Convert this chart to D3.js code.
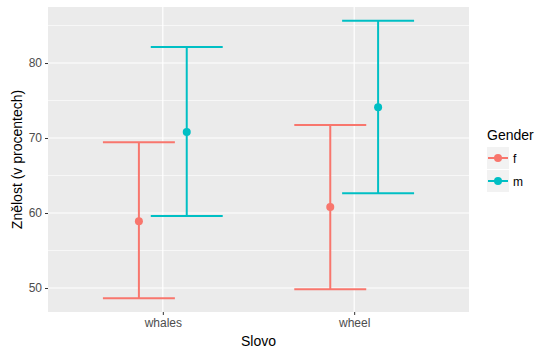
<!DOCTYPE html>
<html>
<head>
<meta charset="utf-8">
<script src="https://cdn.jsdelivr.net/npm/d3@7"></script>
<style>
  body { margin: 0; background: #fff; }
  text { font-family: "Liberation Sans", Arial, sans-serif; }
</style>
</head>
<body>
<script>
const words = ["whales", "wheel"];
const genders = ["f", "m"];
const colors = ["#F8766D", "#00BFC4"];
// mean, lower, upper per word, for each gender
const fMean = [58.9, 60.8];
const fLow = [48.65, 49.85];
const fHigh = [69.45, 71.75];
const mMean = [70.8, 74.1];
const mLow = [59.6, 62.65];
const mHigh = [82.15, 85.65];
const yTicks = [50, 60, 70, 80];
const yMinor = [45, 55, 65, 75, 85];

const rows = [];
words.forEach((w, i) => {
  rows.push({word: w, gender: "f", mean: fMean[i], low: fLow[i], high: fHigh[i]});
  rows.push({word: w, gender: "m", mean: mMean[i], low: mLow[i], high: mHigh[i]});
});

const W = 559, H = 358;
const margin = {top: 7, right: 90, bottom: 46, left: 48};
const width = W - margin.left - margin.right,
    height = H - margin.top - margin.bottom;

const svg = d3.select("body").append("svg")
    .attr("width", W).attr("height", H);

const g = svg.append("g")
    .attr("transform", "translate(" + margin.left + "," + margin.top + ")");

// discrete x scale with ggplot-style expansion
const x = d3.scaleLinear().domain([0.4, 2.6]).range([0, width]);
const xPos = w => x(words.indexOf(w) + 1);
const dodge = 0.125, barHalf = 0.188;

const y = d3.scaleLinear().domain([46.8, 87.47]).range([height, 0]);
const color = d3.scaleOrdinal().domain(genders).range(colors);

// panel
g.append("rect").attr("width", width).attr("height", height).attr("fill", "#EBEBEB");

g.selectAll(".minor").data(yMinor).enter().append("line")
    .attr("x1", 0).attr("x2", width)
    .attr("y1", d => y(d)).attr("y2", d => y(d))
    .attr("stroke", "#fff").attr("stroke-width", 0.6);
g.selectAll(".major").data(yTicks).enter().append("line")
    .attr("x1", 0).attr("x2", width)
    .attr("y1", d => y(d)).attr("y2", d => y(d))
    .attr("stroke", "#fff").attr("stroke-width", 1.2);
g.selectAll(".vmajor").data(words).enter().append("line")
    .attr("x1", d => xPos(d)).attr("x2", d => xPos(d))
    .attr("y1", 0).attr("y2", height)
    .attr("stroke", "#fff").attr("stroke-width", 1.2);

// error bars
const cx = d => x(words.indexOf(d.word) + 1 + (d.gender === "f" ? -dodge : dodge));
const bars = g.selectAll(".eb").data(rows).enter().append("g")
    .attr("stroke", d => color(d.gender)).attr("stroke-width", 2).attr("fill", "none");
bars.append("line")
    .attr("x1", cx).attr("x2", cx)
    .attr("y1", d => y(d.low)).attr("y2", d => y(d.high));
bars.append("line")
    .attr("x1", d => cx(d) - (x(barHalf) - x(0))).attr("x2", d => cx(d) + (x(barHalf) - x(0)))
    .attr("y1", d => y(d.low)).attr("y2", d => y(d.low));
bars.append("line")
    .attr("x1", d => cx(d) - (x(barHalf) - x(0))).attr("x2", d => cx(d) + (x(barHalf) - x(0)))
    .attr("y1", d => y(d.high)).attr("y2", d => y(d.high));
g.selectAll(".pt").data(rows).enter().append("circle")
    .attr("cx", cx).attr("cy", d => y(d.mean)).attr("r", 4)
    .attr("fill", d => color(d.gender));

// axes
const yAxis = g.append("g")
    .call(d3.axisLeft(y).tickValues(yTicks).tickSize(3).tickPadding(3));
const xAxis = g.append("g")
    .attr("transform", "translate(0," + height + ")")
    .call(d3.axisBottom(x).tickValues([1, 2]).tickFormat(d => words[d - 1]).tickSize(3).tickPadding(3));
[xAxis, yAxis].forEach(a => {
  a.select(".domain").remove();
  a.selectAll(".tick line").attr("stroke", "#333").attr("stroke-width", 1);
  a.selectAll(".tick text").attr("fill", "#4D4D4D").style("font-size", "12px");
});

svg.append("text")
    .attr("x", margin.left + width / 2).attr("y", 346)
    .attr("text-anchor", "middle").style("font-size", "14px").attr("fill", "#000")
    .text("Slovo");
svg.append("text")
    .attr("transform", "translate(22," + (margin.top + height / 2) + ") rotate(-90)")
    .attr("text-anchor", "middle").style("font-size", "14px").attr("fill", "#000")
    .text("Znělost (v procentech)");

// legend
const lg = svg.append("g").attr("transform", "translate(487,0)");
lg.append("text").attr("x", 0).attr("y", 140).style("font-size", "14px").text("Gender");
genders.forEach((s, i) => {
  const ky = 147 + i * 23;
  lg.append("rect").attr("x", 0).attr("y", ky).attr("width", 22).attr("height", 22).attr("fill", "#F2F2F2");
  lg.append("line").attr("x1", 1).attr("x2", 21).attr("y1", ky + 11).attr("y2", ky + 11)
      .attr("stroke", color(s)).attr("stroke-width", 2);
  lg.append("circle").attr("cx", 11).attr("cy", ky + 11).attr("r", 4).attr("fill", color(s));
  lg.append("text").attr("x", 26).attr("y", ky + 15.5).style("font-size", "12px").attr("fill", "#000").text(s);
});
</script>
</body>
</html>
